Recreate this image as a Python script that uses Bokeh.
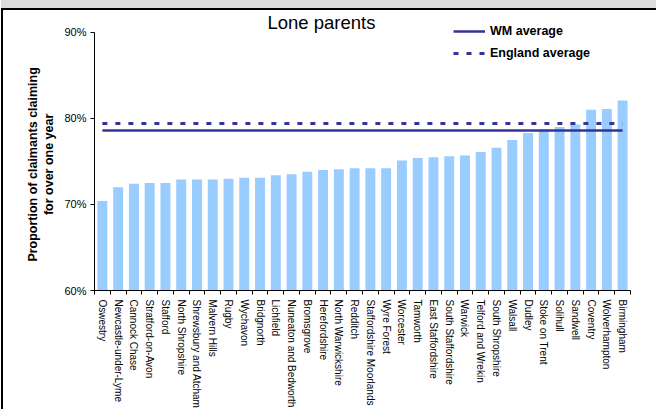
from bokeh.plotting import figure
from bokeh.models import (Range1d, FixedTicker, NumeralTickFormatter, Legend, LegendItem, Label)
from bokeh.embed import file_html
from bokeh.resources import INLINE

categories = ["Oswestry", "Newcastle-under-Lyme", "Cannock Chase", "Stratford-on-Avon", "Stafford",
              "North Shropshire", "Shrewsbury and Atcham", "Malvern Hills", "Rugby", "Wychavon",
              "Bridgnorth", "Lichfield", "Nuneaton and Bedworth", "Bromsgrove", "Herefordshire",
              "North Warwickshire", "Redditch", "Staffordshire Moorlands", "Wyre Forest", "Worcester",
              "Tamworth", "East Staffordshire", "South Staffordshire", "Warwick", "Telford and Wrekin",
              "South Shropshire", "Walsall", "Dudley", "Stoke on Trent", "Solihull", "Sandwell",
              "Coventry", "Wolverhampton", "Birmingham"]
values_pct = [70.4, 72.0, 72.4, 72.5, 72.5, 72.9, 72.9, 72.9, 73.0, 73.1,
              73.1, 73.4, 73.5, 73.8, 74.0, 74.1, 74.2, 74.2, 74.2, 75.1,
              75.4, 75.5, 75.6, 75.7, 76.1, 76.6, 77.5, 78.3, 78.7, 79.0,
              79.3, 81.0, 81.1, 82.1]
wm_average_pct = 78.6
england_average_pct = 79.4
y_ticks_pct = [60, 70, 80, 90]
title_text = "Lone parents"
y_label_lines = ["Proportion of claimants claiming", "for over one year"]

FONT = "Liberation Sans"
n = len(categories)
xs = list(range(n))
vals = [v / 100 for v in values_pct]

# layout (pixels): frame spans 281 px, axis 60%..90% spans 259 px of it
FRAME_H = 281
AXIS_H = 259
y0 = y_ticks_pct[0] / 100
y1 = y_ticks_pct[-1] / 100
y_end = y0 + (y1 - y0) * FRAME_H / AXIS_H

p = figure(width=655, height=401, output_backend="svg", toolbar_location=None,
           x_range=Range1d(-0.5, n - 0.5), y_range=Range1d(y0, y_end),
           min_border_left=91, min_border_right=28, min_border_top=0, min_border_bottom=120)
p.styles = {"margin-top": "8px", "margin-left": "1px",
            "border-top": "2px solid black", "border-left": "2px solid black",
            "box-shadow": "0 -10px 0 0 #dcdcdc"}
p.outline_line_color = None
p.grid.visible = False

p.vbar(x=xs, top=vals, bottom=0, width=0.63, color="#99CCFF", line_color=None)
r_wm = p.line(x=[xs[0], xs[-1]], y=[wm_average_pct / 100] * 2, line_color="#333399", line_width=2.5)
r_en = p.line(x=[xs[0], xs[-1]], y=[england_average_pct / 100] * 2, line_color="#333399",
              line_width=3, line_dash="5 8")

# x axis
xa = p.xaxis[0]
xa.ticker = FixedTicker(ticks=xs, minor_ticks=[i - 0.5 for i in range(n + 1)])
xa.major_label_overrides = {i: c for i, c in enumerate(categories)}
xa.major_label_orientation = "vertical"
xa.major_label_text_font = FONT
xa.major_label_text_font_size = "10px"
xa.major_label_text_color = "black"
xa.major_label_standoff = 3
xa.major_tick_line_color = None
xa.minor_tick_line_color = "black"
xa.minor_tick_out = 4
xa.minor_tick_in = 0
xa.axis_line_color = "black"

# y axis
ya = p.yaxis[0]
ya.ticker = FixedTicker(ticks=[t / 100 for t in y_ticks_pct])
ya.formatter = NumeralTickFormatter(format="0%")
ya.bounds = (y0, y1)
ya.major_label_text_font = FONT
ya.major_label_text_font_size = "11px"
ya.major_label_text_color = "black"
ya.major_label_standoff = 4
ya.major_tick_out = 4
ya.major_tick_in = 0
ya.minor_tick_line_color = None
ya.axis_line_color = "black"
# trailing no-break spaces centre the label on the 60%-90% span rather than the full frame
PAD = "\u00a0" * 8
ya.axis_label = "\n".join(line + PAD for line in y_label_lines)
ya.axis_label_text_font = FONT
ya.axis_label_text_font_size = "12.5px"
ya.axis_label_text_font_style = "bold"
ya.axis_label_text_color = "black"
ya.axis_label_standoff = 5

# title
p.add_layout(Label(x=227, y=268, x_units="screen", y_units="screen", text=title_text,
                   text_font=FONT, text_font_size="18.5px", text_align="center",
                   text_baseline="alphabetic", text_color="black"))

legend = Legend(items=[LegendItem(label="WM average", renderers=[r_wm]),
                       LegendItem(label="England average", renderers=[r_en])],
                location=(359, 227), orientation="vertical",
                padding=0, margin=0, spacing=2, label_height=20, glyph_height=20,
                glyph_width=32, label_standoff=5,
                label_text_font=FONT, label_text_font_size="12.5px", label_text_font_style="bold",
                label_text_color="black",
                border_line_color=None, background_fill_alpha=0)
p.add_layout(legend)

open("out.html", "w").write(file_html(p, INLINE))
